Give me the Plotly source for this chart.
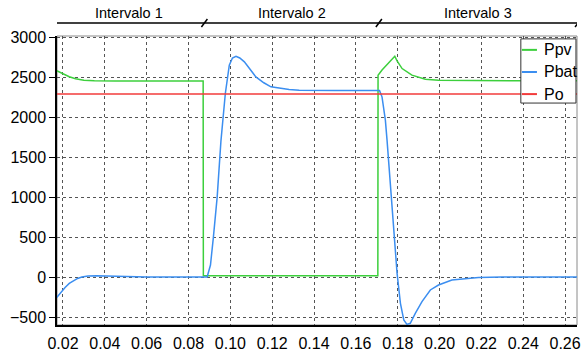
import plotly.graph_objects as go

# Time samples (s) and power values (W) for each signal
ppv_t = [0.017, 0.020, 0.023, 0.026, 0.030, 0.035, 0.045, 0.0870, 0.0871,
         0.1705, 0.1706, 0.1725, 0.1745, 0.1765, 0.1786, 0.1797, 0.1821,
         0.1868, 0.1932, 0.1995, 0.210, 0.220, 0.240, 0.2657]
ppv_w = [2580, 2540, 2505, 2480, 2462, 2455, 2452, 2452, 15,
         15, 2525, 2590, 2650, 2710, 2762, 2704, 2608,
         2525, 2475, 2462, 2458, 2456, 2455, 2455]

pbat_t = [0.017, 0.019, 0.021, 0.023, 0.025, 0.027, 0.029, 0.032, 0.036,
          0.042, 0.050, 0.060, 0.0889, 0.0905, 0.0919, 0.0937, 0.0955,
          0.0976, 0.0995, 0.1010, 0.1027, 0.1045, 0.1067, 0.1095, 0.1122,
          0.1160, 0.1194, 0.1281, 0.1329, 0.150, 0.1713, 0.1725, 0.1741,
          0.1749, 0.1765, 0.1781, 0.1797, 0.1813, 0.1829, 0.1844, 0.1860,
          0.1884, 0.1916, 0.1956, 0.1995, 0.2059, 0.2138, 0.2186, 0.230,
          0.2657]
pbat_w = [-255, -190, -130, -80, -45, -18, 0, 12, 15,
          10, 4, 0, 0, 150, 500, 1000, 1700,
          2296, 2650, 2740, 2762, 2740, 2692, 2600, 2504,
          2430, 2379, 2346, 2337, 2332, 2332, 2254, 1962,
          1712, 1150, 587, 46, -329, -537, -592, -579,
          -454, -308, -162, -100, -37, -16, -5, 0,
          0]

po_t = [0.017, 0.2657]
po_w = [2290, 2290]

series_names = ["Ppv", "Pbat", "Po"]
series_colors = ["#3ccf3c", "#3b8ef0", "#f23b3b"]

# Interval boundaries (s) and their names
interval_bounds = [0.0152, 0.0876, 0.171, 0.2662]
interval_labels = ["Intervalo 1", "Intervalo 2", "Intervalo 3"]

x_ticks = [0.02, 0.04, 0.06, 0.08, 0.10, 0.12, 0.14, 0.16, 0.18, 0.20, 0.22, 0.24, 0.26]
y_ticks = [-500, 0, 500, 1000, 1500, 2000, 2500, 3000]

FONT = "Liberation Sans, Arial, sans-serif"

fig = go.Figure()
for name, color, t, w in zip(series_names, series_colors,
                             [ppv_t, pbat_t, po_t], [ppv_w, pbat_w, po_w]):
    fig.add_trace(go.Scatter(x=t, y=w, mode="lines", name=name,
                             line=dict(color=color, width=1.5),
                             showlegend=False))

shapes = []
annotations = []
# plot frame (light right/top border)
shapes.append(dict(type="rect", xref="paper", yref="paper", x0=0, x1=1, y0=0, y1=1,
                   line=dict(color="#8a8a8a", width=1), layer="below"))
# interval brackets above the plot
for i, name in enumerate(interval_labels):
    a, b = interval_bounds[i], interval_bounds[i + 1]
    shapes.append(dict(type="line", xref="x", yref="paper", x0=a, x1=b,
                       y0=1.045, y1=1.045, line=dict(color="black", width=1.5)))
    annotations.append(dict(x=(a + b) / 2, y=1.045, xref="x", yref="paper",
                            text=name, showarrow=False, yanchor="bottom",
                            font=dict(family=FONT, size=14.5, color="black")))
for b in interval_bounds:
    shapes.append(dict(type="line", xref="x", yref="paper",
                       xsizemode="pixel", ysizemode="pixel",
                       xanchor=b, yanchor=1.045,
                       x0=-3, x1=3, y0=-4, y1=4,
                       line=dict(color="black", width=1.5)))

# compact legend box in the upper-right corner, drawn over the curves
shapes.append(dict(type="rect", xref="paper", yref="paper", layer="above",
                   x0=0.892, x1=0.998, y0=0.768, y1=0.990,
                   fillcolor="white", opacity=1,
                   line=dict(color="#333333", width=1)))
for k, (name, color) in enumerate(zip(series_names, series_colors)):
    yk = 0.952 - k * 0.0765
    shapes.append(dict(type="line", xref="paper", yref="paper", layer="above",
                       x0=0.894, x1=0.923, y0=yk, y1=yk,
                       line=dict(color=color, width=2)))
    annotations.append(dict(x=0.932, y=yk, xref="paper", yref="paper",
                            text=name, showarrow=False, xanchor="left",
                            yanchor="middle",
                            font=dict(family=FONT, size=16, color="black")))

fig.update_layout(
    width=588, height=356,
    margin=dict(l=57, r=11, t=36, b=31, autoexpand=False),
    paper_bgcolor="white", plot_bgcolor="white",
    font=dict(family=FONT, size=16, color="black"),
    shapes=shapes, annotations=annotations,
    showlegend=False,
)
fig.update_xaxes(range=[0.01714, 0.2657], tickvals=x_ticks,
                 ticktext=[f"{v:.2f}" for v in x_ticks],
                 showgrid=True, gridcolor="#555555", griddash="dot", gridwidth=1,
                 showline=True, linecolor="black", linewidth=1.5,
                 ticks="outside", ticklen=3, tickcolor="rgba(0,0,0,0)",
                 zeroline=False, tickfont=dict(size=16), automargin=False)
fig.update_yaxes(range=[-600, 3015], tickvals=y_ticks,
                 showgrid=True, gridcolor="#555555", griddash="dot", gridwidth=1,
                 showline=True, linecolor="black", linewidth=1.5,
                 ticks="outside", ticklen=6, tickcolor="black",
                 zeroline=False, tickfont=dict(size=16), automargin=False)

fig.write_html("out.html")
